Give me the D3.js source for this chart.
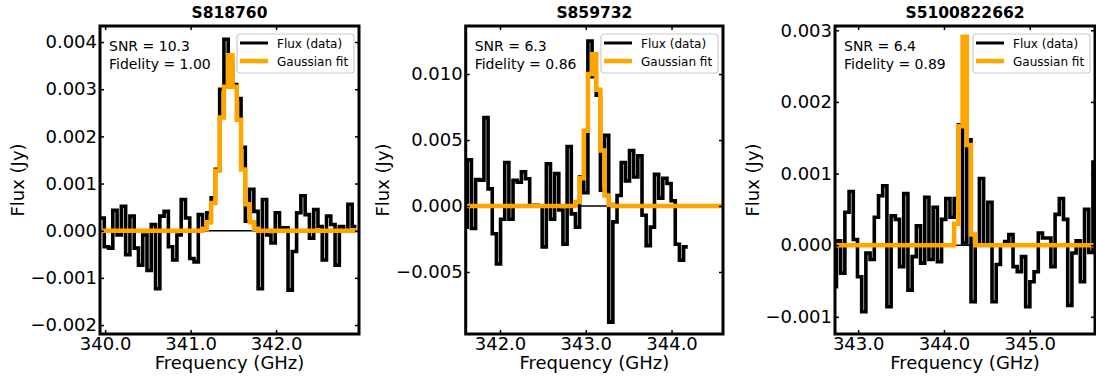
<!DOCTYPE html>
<html>
<head>
<meta charset="utf-8">
<script src="https://cdn.jsdelivr.net/npm/d3@7"></script>
<style>
  body { margin: 0; background: #fff; }
  svg { display: block; }
</style>
</head>
<body>
<svg id="chart" width="1096" height="381"></svg>
<script>
// ---- Source names and line statistics ----
const titles = ["S818760", "S859732", "S5100822662"];
const snrLabels = ["SNR = 10.3", "SNR = 6.3", "SNR = 6.4"];
const fidelityLabels = ["Fidelity = 1.00", "Fidelity = 0.86", "Fidelity = 0.89"];
const legendLabels = ["Flux (data)", "Gaussian fit"];

// ---- Axis extents and ticks (GHz, Jy) ----
const freqRanges = [[339.94, 342.97], [341.6, 344.6], [342.73, 345.76]];
const fluxRanges = [[-0.00219, 0.00434], [-0.0097, 0.01364], [-0.00124, 0.00306]];
const xTicks = [[340, 341, 342], [342, 343, 344], [343, 344, 345]];
const yTicks = [
  [-0.002, -0.001, 0, 0.001, 0.002, 0.003, 0.004],
  [-0.005, 0, 0.005, 0.010],
  [-0.001, 0, 0.001, 0.002, 0.003]
];

// ---- Spectral channels: first channel edge and width (GHz) ----
const chanStart = [339.94, 341.57, 342.649];
const chanWidth = [0.05, 0.0485, 0.049];

// ---- Observed flux per channel (mJy) ----
const flux1 = [0.27, -0.34, -0.37, 0.43, -0.09, 0.52, -0.51, 0.31, -0.37, -0.73,
  -0.09, -0.84, 0.13, -1.23, 0.31, 0.41, -0.34, -0.62, -0.09, 0.66,
  0.27, -0.59, -0.66, 0.34, 0.06, 0.38, 0.7, 1.3, 3.0, 4.06,
  3.55, 3.1, 2.8, 1.77, 0.2, 0.88, 0.41, -1.23, 0.66, -0.09,
  -0.26, 0.38, 0.06, 0.06, -1.26, -0.44, 0.38, 0.74, 0.34, -0.16,
  0.45, 0.09, -0.62, 0.31, 0.13, -0.73, 0.09, 0.0, 0.56, 0.09];
const flux2 = [-1.6, 3.5, -1.7, 2.0, 1.95, 6.7, 1.3, -2.1, -4.4, -1.0,
  3.3, -1.0, 1.95, 1.8, 2.6, 2.07, 0.0, 0.05, 0.0, -3.1,
  3.2, -1.0, 2.45, -0.3, -2.9, 4.5, -0.6, -1.6, 2.2, 1.0,
  12.5, 9.8, 8.4, 1.2, 5.35, -8.8, -1.2, 0.8, 3.3, 1.9,
  4.2, 2.2, 3.8, -0.7, -3.0, -1.6, 2.4, 0.6, 2.1, 1.7,
  0.4, -2.9, -4.1, -3.1];
const flux3 = [0.48, -0.58, 0.06, -0.39, 0.46, 0.75, 0.08, -0.44, -0.93, -0.11,
  -0.2, 0.39, 0.69, 0.83, -0.86, 0.41, 0.36, -0.3, 0.72, -0.63,
  -0.16, 0.27, -0.25, 0.67, -0.2, 0.53, -0.23, 0.36, 0.65, 0.39,
  0.65, 1.68, 0.03, 1.47, -0.79, 0.0, 0.93, 0.0, 0.6, -0.79,
  -0.27, 0.0, 0.05, 0.15, -0.3, -0.37, -0.16, -0.86, -0.51, -0.37,
  0.17, 0.1, 0.1, -0.3, 0.43, 0.65, 0.36, -0.84, -0.11, 0.06,
  -0.51, 0.5, -0.1, 1.16];

// ---- Gaussian fit: first non-zero channel and its values (mJy); zero elsewhere ----
const fit1Start = 24;
const fit1 = [0.04, 0.18, 0.59, 1.27, 2.4, 3.05, 3.72, 3.05, 2.35, 1.3, 0.56, 0.18, 0.04];
const fit2Start = 27;
const fit2 = [0.3, 2.1, 5.7, 10.0, 11.5, 8.8, 4.2, 0.8, 0.1];
const fit3Start = 30;
const fit3 = [0.3, 1.66, 2.91, 1.4, 0.15];

const fluxes = [flux1, flux2, flux3];
const fits = [fit1, fit2, fit3];
const fitStarts = [fit1Start, fit2Start, fit3Start];

// ---- Layout ----
const boxes = [{ left: 100, right: 359 }, { left: 465.7, right: 723 }, { left: 835, right: 1095 }];
const plotTop = 26, plotBottom = 334;
const FONT = "DejaVu Sans";
const ORANGE = "#FFA500";

// Step outline: each channel is a flat segment between its edges
function stepPoints(start, width, vals, offset) {
  const pts = [];
  vals.forEach((v, i) => {
    const k = i + offset;
    pts.push([start + k * width, v]);
    pts.push([start + (k + 1) * width, v]);
  });
  return pts;
}

const svg = d3.select("#chart");

titles.forEach((title, i) => {
  const b = boxes[i];
  const x = d3.scaleLinear().domain(freqRanges[i]).range([b.left, b.right]);
  const y = d3.scaleLinear().domain(fluxRanges[i]).range([plotBottom, plotTop]);
  const line = d3.line().x(d => x(d[0])).y(d => y(d[1] * 1e-3));

  const g = svg.append("g");
  const clipId = "plotclip" + i;
  svg.append("clipPath").attr("id", clipId)
    .append("rect")
    .attr("x", b.left).attr("y", plotTop)
    .attr("width", b.right - b.left).attr("height", plotBottom - plotTop);

  const plot = g.append("g").attr("clip-path", `url(#${clipId})`);

  // zero reference line
  plot.append("line")
    .attr("x1", b.left).attr("x2", b.right)
    .attr("y1", y(0)).attr("y2", y(0))
    .attr("stroke", "#000").attr("stroke-width", 1.5);

  // observed spectrum
  plot.append("path")
    .attr("d", line(stepPoints(chanStart[i], chanWidth[i], fluxes[i], 0)))
    .attr("fill", "none").attr("stroke", "#000")
    .attr("stroke-width", 3.6).attr("stroke-linejoin", "miter");

  // Gaussian fit, flat at zero outside the line
  const fs = fitStarts[i], fv = fits[i];
  const e0 = chanStart[i] + fs * chanWidth[i];
  const e1 = chanStart[i] + (fs + fv.length) * chanWidth[i];
  const fitPts = [[freqRanges[i][0], 0], [e0, 0]]
    .concat(stepPoints(chanStart[i], chanWidth[i], fv, fs))
    .concat([[e1, 0], [freqRanges[i][1], 0]]);
  plot.append("path")
    .attr("d", line(fitPts))
    .attr("fill", "none").attr("stroke", ORANGE)
    .attr("stroke-width", 4.5).attr("stroke-linejoin", "miter");

  // axes with inward ticks on all four sides
  const styleAxis = sel => {
    sel.select(".domain").remove();
    sel.selectAll(".tick line").attr("stroke", "#000").attr("stroke-width", 1.5);
    sel.selectAll("text").attr("fill", "#000");
    sel.attr("font-family", FONT).attr("font-size", 18);
  };
  g.append("g").attr("transform", `translate(0,${plotBottom})`)
    .call(d3.axisBottom(x).tickValues(xTicks[i]).tickFormat(d3.format(".1f")).tickSize(-4).tickPadding(3))
    .call(styleAxis);
  g.append("g").attr("transform", `translate(0,${plotTop})`)
    .call(d3.axisTop(x).tickValues(xTicks[i]).tickFormat("").tickSize(-4))
    .call(styleAxis);
  g.append("g").attr("transform", `translate(${b.left},0)`)
    .call(d3.axisLeft(y).tickValues(yTicks[i]).tickFormat(d3.format(".3f")).tickSize(-4).tickPadding(3))
    .call(styleAxis);
  g.append("g").attr("transform", `translate(${b.right},0)`)
    .call(d3.axisRight(y).tickValues(yTicks[i]).tickFormat("").tickSize(-4))
    .call(styleAxis);

  // frame
  g.append("rect")
    .attr("x", b.left).attr("y", plotTop)
    .attr("width", b.right - b.left).attr("height", plotBottom - plotTop)
    .attr("fill", "none").attr("stroke", "#000").attr("stroke-width", 3);

  // statistics text
  const stats = g.append("g").attr("font-family", FONT).attr("font-size", 14).attr("fill", "#000");
  stats.append("text").attr("x", b.left + 9).attr("y", 50.5).text(snrLabels[i]);
  stats.append("text").attr("x", b.left + 9).attr("y", 68.5).text(fidelityLabels[i]);

  // legend
  const lw = 117, lh = 39;
  const leg = g.append("g").attr("transform", `translate(${b.right - 5 - lw},${plotTop + 8})`);
  leg.append("rect").attr("width", lw).attr("height", lh).attr("rx", 3)
    .attr("fill", "#fff").attr("fill-opacity", 0.8)
    .attr("stroke", "#cccccc").attr("stroke-width", 1.2);
  [["#000", 3], [ORANGE, 4.5]].forEach((s, j) => {
    const yy = 9 + j * 18;
    leg.append("line").attr("x1", 3).attr("x2", 31).attr("y1", yy).attr("y2", yy)
      .attr("stroke", s[0]).attr("stroke-width", s[1]);
    leg.append("text").attr("x", 40).attr("y", yy + 4.5)
      .attr("font-family", FONT).attr("font-size", 12).attr("fill", "#000")
      .text(legendLabels[j]);
  });

  // titles and axis labels
  const cx = (b.left + b.right) / 2;
  g.append("text").attr("x", cx).attr("y", 18).attr("text-anchor", "middle")
    .attr("font-family", FONT).attr("font-weight", "bold").attr("font-size", 15.5)
    .text(title);
  g.append("text").attr("x", cx).attr("y", 369).attr("text-anchor", "middle")
    .attr("font-family", FONT).attr("font-size", 18)
    .text("Frequency (GHz)");
  g.append("text")
    .attr("transform", `translate(${b.left - 76.5},${(plotTop + plotBottom) / 2}) rotate(-90)`)
    .attr("text-anchor", "middle")
    .attr("font-family", FONT).attr("font-size", 18)
    .text("Flux (Jy)");
});
</script>
</body>
</html>
